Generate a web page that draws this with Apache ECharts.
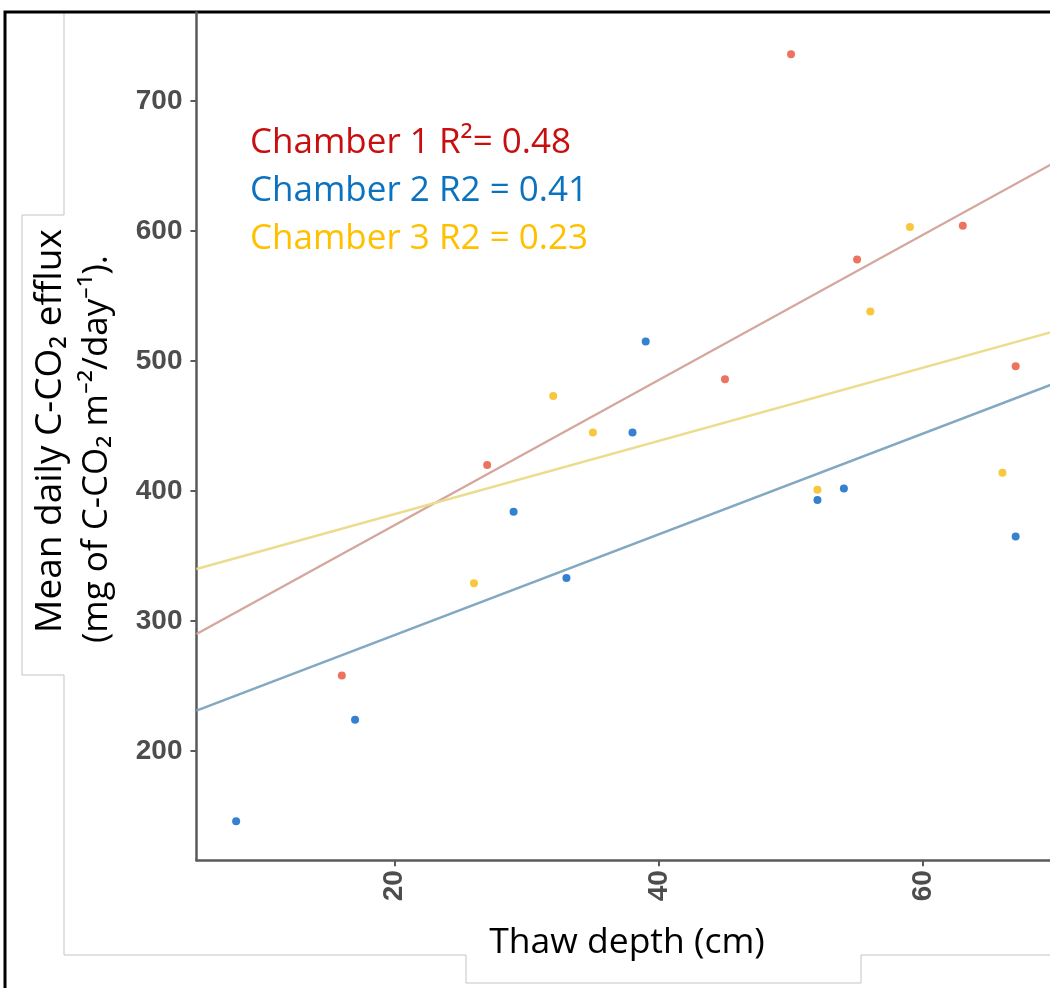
<!DOCTYPE html>
<html><head><meta charset="utf-8">
<script src="https://cdn.jsdelivr.net/npm/echarts@6/dist/echarts.min.js"></script>
<style>html,body{margin:0;padding:0;background:#fff}#c{width:1050px;height:988px}</style>
</head><body><div id="c"></div>
<script>
// Data
const chamber1 = [[16,258],[27,420],[45,486],[50,736],[55,578],[63,604],[67,496]];
const chamber2 = [[8,146],[17,224],[29,384],[33,333],[38,445],[39,515],[52,393],[54,402],[67,365]];
const chamber3 = [[26,329],[32,473],[35,445],[52,401],[56,538],[59,603],[66,414]];
// fitted regression lines (end points)
const fit1 = [[5,290],[70,653]];
const fit2 = [[5,231],[70,483]];
const fit3 = [[5,340],[70,523]];
const xTicks = [20,40,60];
const yTicks = [200,300,400,500,600,700];
const legendLabels = ['Chamber 1 R\u00B2= 0.48','Chamber 2 R2 = 0.41','Chamber 3 R2 = 0.23'];
const xTitle = 'Thaw depth (cm)';
const yTitle1 = 'Mean daily C-CO\u2082 efflux';
const yTitle2 = '(mg of C-CO\u2082 m\u207B\u00B2/day\u207B\u00B9).';

const pointColors = ['#e8503a','#0062c4','#f6b90c'];
const lineColors = ['#d4a69c','#82a8c2','#ecdc8e'];
const textColors = ['#c80f0f','#0b72c0','#ffc000'];

const chart = echarts.init(document.getElementById('c'), null, {renderer:'canvas'});
const tickFont = {fontFamily:'Liberation Sans', fontWeight:'bold', fontSize:28, color:'#4d4d4d'};
const sansFont = 'Open Sans';
function f(sz){ return sz + 'px "' + sansFont + '"'; }

const option = {
  backgroundColor:'#ffffff',
  animation:false,
  grid:{left:196.5, top:12.6, right:0, height:847.6, containLabel:false},
  xAxis:{type:'value', min:5, max:69.6,
    axisLine:{show:true, onZero:false, lineStyle:{color:'#5a5a5a', width:2.5}},
    axisTick:{show:true, length:6, customValues:xTicks, lineStyle:{color:'#5a5a5a', width:2}},
    axisLabel:Object.assign({customValues:xTicks, rotate:90, margin:10}, tickFont),
    splitLine:{show:false}},
  yAxis:{type:'value', min:116, max:768,
    axisLine:{show:true, onZero:false, lineStyle:{color:'#5a5a5a', width:2.5}},
    axisTick:{show:true, length:6, customValues:yTicks, lineStyle:{color:'#5a5a5a', width:2}},
    axisLabel:Object.assign({customValues:yTicks, margin:14}, tickFont),
    splitLine:{show:false}},
  series:[
    {type:'line', data:fit1, showSymbol:false, clip:true, lineStyle:{color:lineColors[0], width:2.4}, silent:true},
    {type:'line', data:fit2, showSymbol:false, clip:true, lineStyle:{color:lineColors[1], width:2.4}, silent:true},
    {type:'line', data:fit3, showSymbol:false, clip:true, lineStyle:{color:lineColors[2], width:2.4}, silent:true},
    {type:'scatter', data:chamber1, symbolSize:8, itemStyle:{color:pointColors[0]}},
    {type:'scatter', data:chamber2, symbolSize:8, itemStyle:{color:pointColors[1]}},
    {type:'scatter', data:chamber3, symbolSize:8, itemStyle:{color:pointColors[2]}}
  ],
  graphic:[
    {type:'polyline', shape:{points:[[5,988],[5,12],[1050,12]]}, style:{stroke:'#000', lineWidth:3, fill:null}, z:0},
    {type:'polyline', shape:{points:[[64,13],[64,215],[22,215],[22,675],[64,675],[64,955],[466,955],[466,983],[861,983],[861,955],[1050,955]]},
      style:{stroke:'#c4c4c4', lineWidth:1, fill:null}, z:-1},
    {type:'text', x:50, y:431, rotation:Math.PI/2,
      style:{text:yTitle1, font:f(37), fill:'#000', textAlign:'center', textVerticalAlign:'middle'}},
    {type:'text', x:97, y:449, rotation:Math.PI/2,
      style:{text:yTitle2, font:f(35), fill:'#000', textAlign:'center', textVerticalAlign:'middle'}},
    {type:'text', x:627, y:943,
      style:{text:xTitle, font:f(35.5), fill:'#000', textAlign:'center', textVerticalAlign:'middle'}},
    {type:'text', x:250, y:143, style:{text:legendLabels[0], font:f(35), fill:textColors[0], textAlign:'left', textVerticalAlign:'middle'}},
    {type:'text', x:250, y:191, style:{text:legendLabels[1], font:f(35), fill:textColors[1], textAlign:'left', textVerticalAlign:'middle'}},
    {type:'text', x:250, y:239, style:{text:legendLabels[2], font:f(35), fill:textColors[2], textAlign:'left', textVerticalAlign:'middle'}}
  ]
};
chart.setOption(option);
</script></body></html>
